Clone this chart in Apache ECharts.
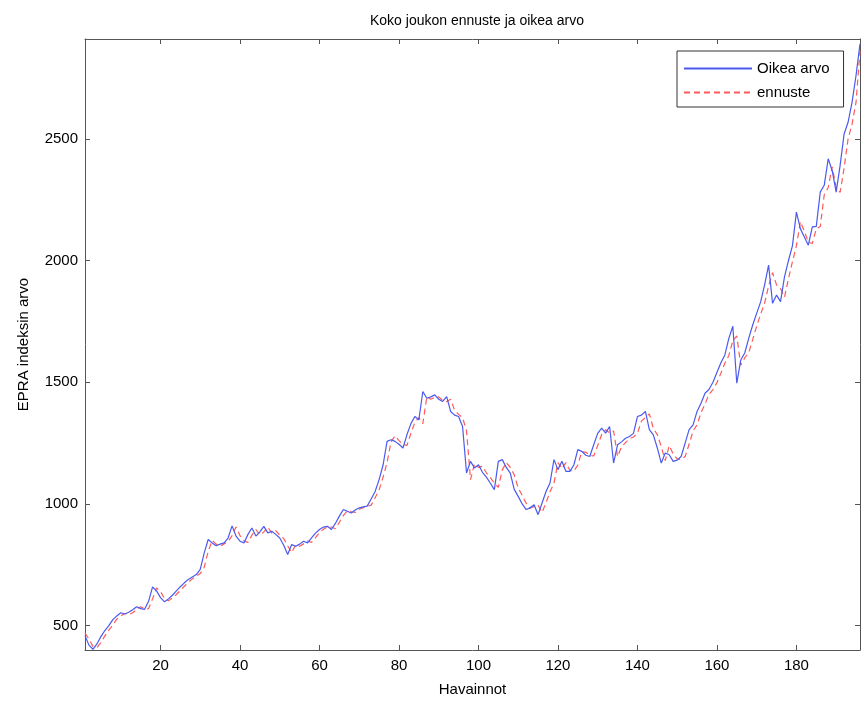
<!DOCTYPE html>
<html>
<head>
<meta charset="utf-8">
<title>Koko joukon ennuste ja oikea arvo</title>
<script src="https://cdn.jsdelivr.net/npm/echarts@6/dist/echarts.min.js"></script>
<style>
  html, body { margin: 0; padding: 0; background: #fff; }
  #chart { width: 862px; height: 702px; }
</style>
</head>
<body>
<div id="chart"></div>
<script>
// EPRA index: observed value and one-step forecast for observations 1..196
const actual = [
  459, 420, 403, 425, 455, 480, 500, 525, 540, 553,
  548, 555, 565, 578, 570, 567, 600, 659, 643, 615,
  598, 610, 625, 643, 660, 676, 690, 700, 710, 731,
  799, 854, 840, 828, 835, 840, 860, 910, 868, 847,
  840, 875, 901, 868, 885, 908, 881, 888, 875, 860,
  830, 792, 833, 826, 835, 847, 840, 861, 880, 895,
  905, 908, 895, 920, 950, 977, 970, 963, 975, 984,
  988, 991, 1020, 1051, 1100, 1160, 1257, 1264, 1257, 1245,
  1230, 1284, 1330, 1359, 1346, 1462, 1434, 1440, 1448, 1430,
  1421, 1441, 1380, 1365, 1359, 1318, 1127, 1175, 1148, 1161,
  1130, 1110, 1085, 1059, 1175, 1182, 1150, 1127, 1060, 1031,
  1000, 977, 984, 997, 956, 1004, 1051, 1086, 1182, 1141,
  1175, 1134, 1134, 1160, 1223, 1216, 1200, 1195, 1243, 1290,
  1311, 1291, 1318, 1168, 1243, 1255, 1270, 1277, 1290, 1359,
  1365, 1380, 1305, 1284, 1230, 1168, 1209, 1202, 1175, 1180,
  1195, 1250, 1305, 1325, 1380, 1414, 1455, 1470, 1500, 1540,
  1580, 1612, 1680, 1730, 1496, 1591, 1620, 1680, 1735, 1783,
  1830, 1900, 1981, 1824, 1858, 1831, 1933, 2000, 2060, 2199,
  2131, 2097, 2063, 2138, 2140, 2281, 2309, 2418, 2370, 2281,
  2391, 2520, 2568, 2650, 2760, 2890
];

const forecast = [
  470, 445, 415, 410, 430, 458, 482, 503, 527, 540,
  550, 545, 553, 566, 578, 568, 570, 610, 655, 640,
  612, 602, 614, 628, 645, 662, 678, 692, 703, 714,
  740, 805, 850, 835, 826, 836, 845, 870, 905, 870,
  848, 842, 872, 895, 872, 885, 905, 880, 890, 872,
  858, 828, 800, 832, 826, 836, 848, 842, 862, 882,
  896, 906, 905, 898, 925, 952, 972, 968, 965, 978,
  985, 990, 995, 1025, 1058, 1110, 1170, 1255, 1280, 1260,
  1245, 1240, 1290, 1335, 1355, 1330, 1440, 1430, 1438, 1440,
  1425, 1420, 1430, 1385, 1368, 1355, 1300, 1100, 1165, 1150,
  1155, 1128, 1108, 1085, 1068, 1140, 1170, 1150, 1120, 1065,
  1035, 1003, 982, 990, 995, 965, 1005, 1050, 1085, 1170,
  1145, 1170, 1138, 1135, 1160, 1215, 1212, 1200, 1197, 1240,
  1285, 1305, 1292, 1300, 1195, 1235, 1252, 1268, 1275, 1290,
  1340, 1355, 1370, 1310, 1285, 1235, 1178, 1240, 1205, 1185,
  1182, 1195, 1245, 1300, 1325, 1375, 1410, 1450, 1470, 1498,
  1537, 1578, 1610, 1670, 1690, 1570, 1600, 1622, 1675, 1730,
  1780, 1825, 1895, 1950, 1900, 1885, 1850, 1925, 1995, 2060,
  2160, 2120, 2075, 2070, 2130, 2140, 2270, 2300, 2385, 2300,
  2280, 2380, 2500, 2560, 2650, 2860
];

const xTicks = [20, 40, 60, 80, 100, 120, 140, 160, 180];
const yTicks = [500, 1000, 1500, 2000, 2500];

const seriesNames = ['Oikea arvo', 'ennuste'];
const titleText = 'Koko joukon ennuste ja oikea arvo';
const xName = 'Havainnot';
const yName = 'EPRA indeksin arvo';

const font = '"Liberation Sans", Arial, sans-serif';
const axisColor = '#555';

function pairs(values) {
  return values.map((v, i) => [i + 1, v]);
}

function plain(v) {
  return String(v);
}

function xAxisDef(pos, withLabels) {
  return {
    type: 'value', position: pos, min: 1, max: 196,
    name: withLabels ? xName : '', nameLocation: 'middle', nameGap: 32,
    nameTextStyle: { fontFamily: font, fontSize: 15, color: '#000' },
    axisLine: { show: true, onZero: false, lineStyle: { color: axisColor, width: 1 } },
    axisTick: { show: true, inside: true, length: 5, customValues: xTicks, lineStyle: { color: axisColor } },
    axisLabel: { show: withLabels, customValues: xTicks, formatter: plain, margin: 8, fontFamily: font, fontSize: 15, color: '#000' },
    splitLine: { show: false }
  };
}

function yAxisDef(pos, withLabels) {
  return {
    type: 'value', position: pos, min: 400, max: 2910,
    name: withLabels ? yName : '', nameLocation: 'middle', nameGap: 54,
    nameTextStyle: { fontFamily: font, fontSize: 15, color: '#000' },
    axisLine: { show: true, onZero: false, lineStyle: { color: axisColor, width: 1 } },
    axisTick: { show: true, inside: true, length: 5, customValues: yTicks, lineStyle: { color: axisColor } },
    axisLabel: { show: withLabels, customValues: yTicks, formatter: plain, margin: 7, fontFamily: font, fontSize: 15, color: '#000' },
    splitLine: { show: false }
  };
}

const chart = echarts.init(document.getElementById('chart'), null, { renderer: 'canvas' });
chart.setOption({
  animation: false,
  backgroundColor: '#fff',
  title: {
    text: titleText, left: 472, textAlign: 'center', top: 9,
    textStyle: { fontFamily: font, fontSize: 14, fontWeight: 'normal', color: '#000' }
  },
  grid: { left: 85, right: 2, top: 39, bottom: 50, containLabel: false },
  legend: {
    data: seriesNames, orient: 'vertical', left: 677, top: 51,
    padding: [10, 14, 7, 6], itemGap: 9, itemWidth: 68, itemHeight: 14,
    borderColor: '#333', borderWidth: 1, backgroundColor: '#fff',
    itemStyle: { opacity: 0 },
    textStyle: { fontFamily: font, fontSize: 15, color: '#000' }
  },
  xAxis: [xAxisDef('bottom', true), xAxisDef('top', false)],
  yAxis: [yAxisDef('left', true), yAxisDef('right', false)],
  series: [
    {
      name: seriesNames[0], type: 'line', data: pairs(actual),
      symbol: 'none', z: 3,
      lineStyle: { color: '#4a5af0', width: 1.2 },
      itemStyle: { color: '#4a5af0' }
    },
    {
      name: seriesNames[1], type: 'line', data: pairs(forecast),
      symbol: 'none', z: 2,
      lineStyle: { color: '#ff5a5a', width: 1.2, type: [6, 4] },
      itemStyle: { color: '#ff5a5a' }
    }
  ]
});
</script>
</body>
</html>
